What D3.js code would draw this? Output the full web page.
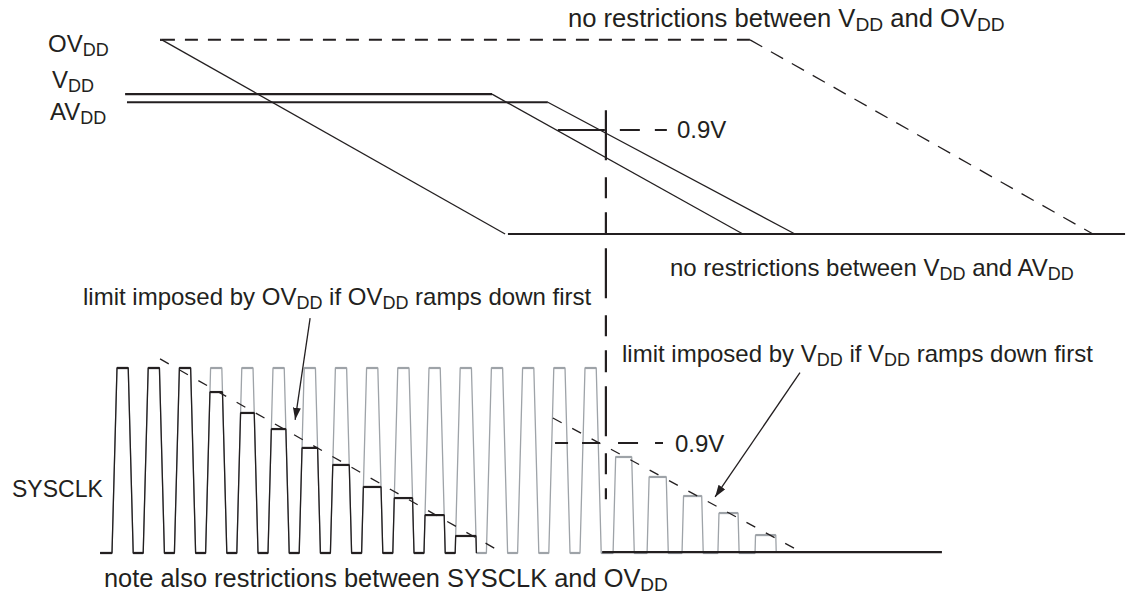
<!DOCTYPE html>
<html>
<head>
<meta charset="utf-8">
<script src="https://cdn.jsdelivr.net/npm/d3@7"></script>
<style>
  body { margin: 0; background: #fff; }
  text { font-family: "Liberation Sans", Arial, Helvetica, sans-serif; fill: #231f20; }
</style>
</head>
<body>
<div id="chart"></div>
<script>
// ---- data (time in SYSCLK cycles, supply in volts, clock as fraction of full swing) ----
var supplyNames      = ["OVDD", "VDD", "AVDD"];
var supplyLevel      = [1.68, 1.21, 1.14];
var supplyLineStart  = [1.54, 0.42, 0.48];
var supplyRampStart  = [1.60, 12.18, 13.97];
var supplyRampEnd    = [12.60, 20.22, 21.89];
var ovddLateRamp     = [20.45, 31.44];      // dashed "no restrictions" ramp of OVDD
var groundSpan       = [12.69, 32.47];
var threshold        = 0.9;
var thresholdTime    = 15.83;               // where the later supply crosses 0.9V
var markerSpan       = [1.07, 0.29];        // vertical marker: top (V) / bottom (clock)

var clkCycles   = [0, 1, 2, 3, 4, 5, 6, 7, 8, 9, 10, 11, 12, 13, 14, 15];
var clkShape    = [0, 0.16, 0.52, 0.68];    // rise start, top start, top end, fall end
var clkStart    = -0.38;
var ovddClipAmp = [1, 1, 1, 0.87, 0.757, 0.67, 0.568, 0.476, 0.357, 0.297, 0.205, 0.092];
var vddPulseStart = [16.06, 17.15, 18.27, 19.42, 20.61];
var vddPulseAmp   = [0.519, 0.411, 0.308, 0.216, 0.097];
var clkLowSpan    = [15.71, 26.60];
var clkThreshold  = 0.595;
var ovddLimit = [[1.54, 1.049], [12.53, 0]];
var vddLimit  = [[14.13, 0.73], [22.15, 0]];

var w = 1130, h = 598;
var ink = "#231f20", grey = "#9ea3a8";

var svg = d3.select("#chart").append("svg")
            .attr("width", w)
            .attr("height", h);

var x = d3.scaleLinear().domain([0, 32]).range([112, 1110.4]);
var yV = d3.scaleLinear().domain([0, threshold]).range([234, 130]);
var yC = d3.scaleLinear().domain([0, 1]).range([553, 368]);

var lineV = d3.line().x(function(d) { return x(d[0]); }).y(function(d) { return yV(d[1]); });
var lineC = d3.line().x(function(d) { return x(d[0]); }).y(function(d) { return yC(d[1]); });

svg.append("defs").append("marker")
   .attr("id", "head")
   .attr("viewBox", "0 0 12 8")
   .attr("refX", 12).attr("refY", 4)
   .attr("markerWidth", 12).attr("markerHeight", 8)
   .attr("markerUnits", "userSpaceOnUse")
   .attr("orient", "auto")
   .append("path")
   .attr("d", "M0,0 L12,4 L0,8 Z")
   .attr("fill", ink);

// ===== supplies =====
var supplies = svg.append("g");

supplyNames.forEach(function(name, i) {
  var flat = [[supplyLineStart[i], supplyLevel[i]], [supplyRampStart[i], supplyLevel[i]]];
  var ramp = [[supplyRampStart[i], supplyLevel[i]], [supplyRampEnd[i], 0]];
  supplies.append("path").attr("d", lineV(flat))
     .attr("fill", "none").attr("stroke", ink).attr("stroke-width", 2.2);
  supplies.append("path").attr("d", lineV(ramp))
     .attr("fill", "none").attr("stroke", ink).attr("stroke-width", 1.3);
});

// OVDD alternative (dashed)
supplies.append("path")
   .attr("d", lineV([[supplyRampStart[0], supplyLevel[0]], [ovddLateRamp[0], supplyLevel[0]]]))
   .attr("fill", "none").attr("stroke", ink).attr("stroke-width", 2)
   .attr("stroke-dasharray", "13,10");
supplies.append("path")
   .attr("d", lineV([[ovddLateRamp[0], supplyLevel[0]], [ovddLateRamp[1], 0]]))
   .attr("fill", "none").attr("stroke", ink).attr("stroke-width", 1.3)
   .attr("stroke-dasharray", "14,10");

// ground
supplies.append("path")
   .attr("d", lineV([[groundSpan[0], 0], [groundSpan[1], 0]]))
   .attr("fill", "none").attr("stroke", ink).attr("stroke-width", 2.2);

// 0.9V reference
supplies.append("path")
   .attr("d", lineV([[14.29, threshold], [17.79, threshold]]))
   .attr("fill", "none").attr("stroke", ink).attr("stroke-width", 2)
   .attr("stroke-dasharray", "47,15,20,15,12,200");

// vertical marker through both sections
svg.append("line")
   .attr("x1", x(thresholdTime)).attr("x2", x(thresholdTime))
   .attr("y1", yV(markerSpan[0])).attr("y2", yC(markerSpan[1]))
   .attr("stroke", ink).attr("stroke-width", 2.2)
   .attr("stroke-dasharray", "50,17,21,14,22,14");

// ===== clock =====
var clk = svg.append("g");

function pulse(t0, a) {
  return [[t0 + clkShape[0], 0],
          [t0 + clkShape[1] * a, a],
          [t0 + clkShape[3] - clkShape[1] * a, a],
          [t0 + clkShape[3], 0]];
}

var greyPts = [[clkStart, 0]];
clkCycles.forEach(function(k) { greyPts = greyPts.concat(pulse(k, 1)); });
vddPulseStart.forEach(function(t, i) { greyPts = greyPts.concat(pulse(t, vddPulseAmp[i])); });

var blackPts = [[clkStart, 0]];
ovddClipAmp.forEach(function(a, k) { blackPts = blackPts.concat(pulse(clkCycles[k], a)); });

function drawWave(pts, color) {
  clk.append("path").attr("d", lineC(pts))
     .attr("fill", "none").attr("stroke", color).attr("stroke-width", 1.3)
     .attr("stroke-linejoin", "round");
  // flats drawn a little heavier
  for (var i = 0; i < pts.length - 1; i++) {
    if (pts[i][1] === pts[i + 1][1]) {
      clk.append("path").attr("d", lineC([pts[i], pts[i + 1]]))
         .attr("stroke", color).attr("stroke-width", 2.2);
    }
  }
}

drawWave(greyPts, grey);
drawWave(blackPts, ink);

clk.append("path")
   .attr("d", lineC([[clkLowSpan[0], 0.005], [clkLowSpan[1], 0.005]]))
   .attr("stroke", ink).attr("stroke-width", 2.2);

// limit lines
[ovddLimit, vddLimit].forEach(function(seg) {
  clk.append("path").attr("d", lineC(seg))
     .attr("fill", "none").attr("stroke", ink).attr("stroke-width", 1.3)
     .attr("stroke-dasharray", "10,12");
});

// 0.9V reference on clock
clk.append("path")
   .attr("d", lineC([[14.20, clkThreshold], [17.66, clkThreshold]]))
   .attr("fill", "none").attr("stroke", ink).attr("stroke-width", 2)
   .attr("stroke-dasharray", "13,14,18,18,20,17,8,200");

// arrows
clk.append("line")
   .attr("x1", x(6.35)).attr("y1", yC(1.27))
   .attr("x2", x(5.87)).attr("y2", yC(0.72))
   .attr("stroke", ink).attr("stroke-width", 1.3)
   .attr("marker-end", "url(#head)");
clk.append("line")
   .attr("x1", x(22.05)).attr("y1", yC(0.975))
   .attr("x2", x(19.33)).attr("y2", yC(0.303))
   .attr("stroke", ink).attr("stroke-width", 1.3)
   .attr("marker-end", "url(#head)");

// ===== text =====
function label(px, py, parts, size) {
  size = size || 24;
  var t = svg.append("text").attr("x", px).attr("y", py).attr("font-size", size);
  var sub = false;
  parts.forEach(function(p) {
    var isSub = p.charAt(0) === "_";
    var s = t.append("tspan").text(isSub ? p.slice(1) : p);
    if (isSub) { s.attr("font-size", size * 0.75).attr("dy", 4); }
    else if (sub) { s.attr("dy", -4); }
    sub = isSub;
  });
}

label(48, 52, ["OV", "_DD"]);
label(52, 88, ["V", "_DD"]);
label(50, 120, ["AV", "_DD"]);
label(677, yV(threshold) + 8, ["0.9V"]);
label(675, yC(clkThreshold) + 9, ["0.9V"]);
label(568, 27, ["no restrictions between V", "_DD", " and OV", "_DD"], 25.6);
label(670, 276, ["no restrictions between V", "_DD", " and AV", "_DD"]);
label(83, 305, ["limit imposed by OV", "_DD", " if OV", "_DD", " ramps down first"]);
label(622, 362, ["limit imposed by V", "_DD", " if V", "_DD", " ramps down first"]);
label(12, 497, ["SYSCLK"], 23);
label(104, 587, ["note also restrictions between SYSCLK and OV", "_DD"], 25.4);
</script>
</body>
</html>
